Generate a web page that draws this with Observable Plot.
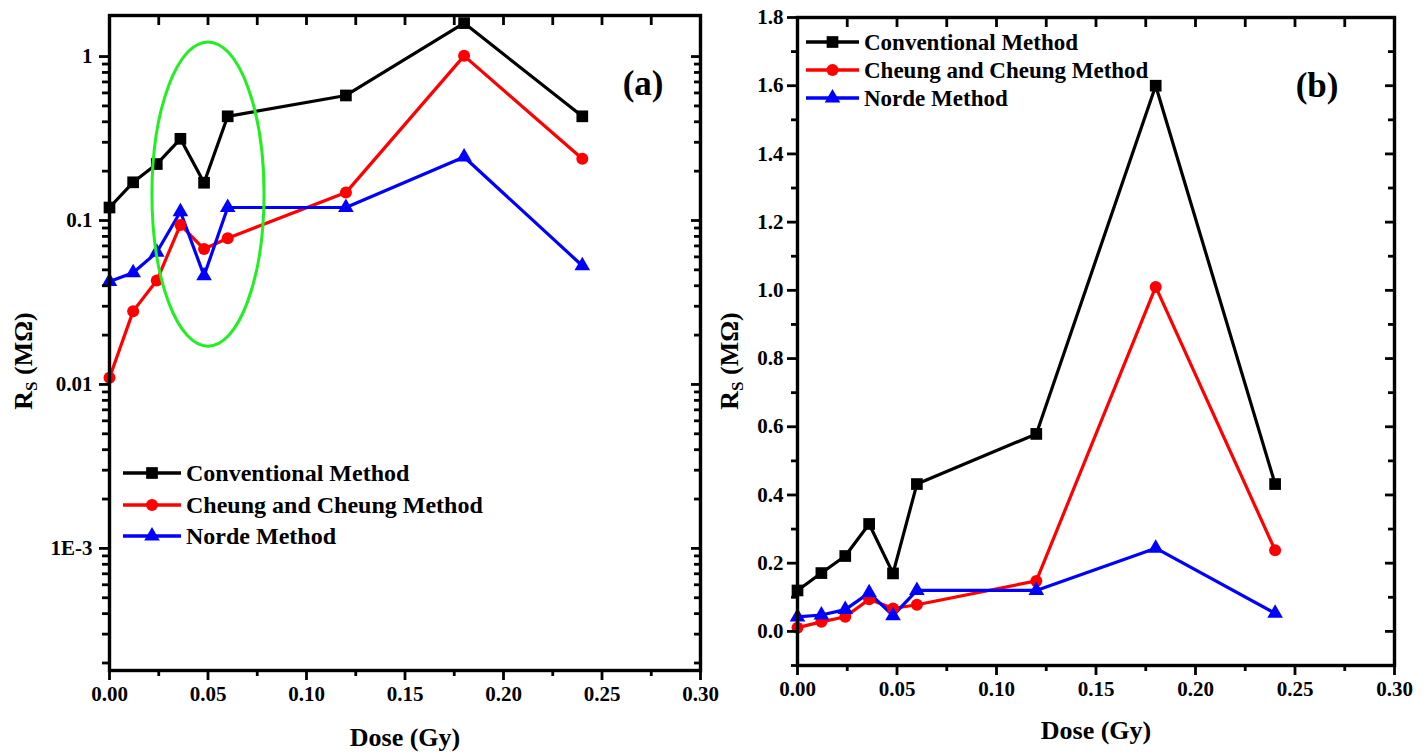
<!DOCTYPE html>
<html><head><meta charset="utf-8">
<script src="https://cdn.jsdelivr.net/npm/d3@7"></script>
<script src="https://cdn.jsdelivr.net/npm/@observablehq/plot@0.6"></script>
<style>
body{margin:0;background:#fff;}
#wrap{position:relative;width:1428px;height:755px;overflow:hidden;background:#fff;}
#wrap svg{position:absolute;top:0;}
#wrap svg text{font-weight:bold;}
</style></head><body><div id="wrap"></div>
<script>
// ---- data ----
const dose = [0, 0.012, 0.024, 0.036, 0.048, 0.06, 0.12, 0.18, 0.24];
const conventional = [0.12, 0.171, 0.221, 0.315, 0.17, 0.432, 0.579, 1.6, 0.432];
const cheung = [0.011, 0.028, 0.043, 0.094, 0.067, 0.078, 0.148, 1.01, 0.238];
const norde = [0.0425, 0.048, 0.064, 0.113, 0.046, 0.12, 0.12, 0.244, 0.053];

const seriesNames = ["Conventional Method", "Cheung and Cheung Method", "Norde Method"];
const seriesColors = ["#000000", "#ff0000", "#0000ff"];
const seriesSymbols = ["square", "circle", "triangle"];
const seriesR = [6.6, 6, 5.8];

// ---- ticks ----
const xMajorTicks = [0, 0.05, 0.10, 0.15, 0.20, 0.25, 0.30];
const xMinorTicks = [0.025, 0.075, 0.125, 0.175, 0.225, 0.275];
const xTopTicks = [0.025, 0.05, 0.075, 0.10, 0.125, 0.15, 0.175, 0.20, 0.225, 0.25, 0.275];
const logMajorTicks = [0.001, 0.01, 0.1, 1];
const logMajorLabels = ["1E-3", "0.01", "0.1", "1"];
const logMinorTicks = [2e-4, 3e-4, 4e-4, 5e-4, 6e-4, 7e-4, 8e-4, 9e-4,
  0.002, 0.003, 0.004, 0.005, 0.006, 0.007, 0.008, 0.009,
  0.02, 0.03, 0.04, 0.05, 0.06, 0.07, 0.08, 0.09,
  0.2, 0.3, 0.4, 0.5, 0.6, 0.7, 0.8, 0.9];
const linMajorTicks = [0, 0.2, 0.4, 0.6, 0.8, 1.0, 1.2, 1.4, 1.6, 1.8];
const linMajorLabels = ["0.0", "0.2", "0.4", "0.6", "0.8", "1.0", "1.2", "1.4", "1.6", "1.8"];
const linMinorTicks = [-0.1, 0.1, 0.3, 0.5, 0.7, 0.9, 1.1, 1.3, 1.5, 1.7];

// green highlight ellipse (data extents) in panel (a)
const ellipseX = [0.0218, 0.0787];
const ellipseY = [0.017, 1.22];

const rows = dose.flatMap((d, i) => [
  {dose: d, rs: conventional[i], s: 0},
  {dose: d, rs: cheung[i], s: 1},
  {dose: d, rs: norde[i], s: 2}
]);

const FONT = "'Liberation Serif', 'Times New Roman', serif";
const blank = () => "";

function seriesMarks() {
  const m = [];
  for (let s = 0; s < 3; s++) {
    const d = rows.filter(r => r.s === s);
    m.push(Plot.line(d, {x: "dose", y: "rs", stroke: seriesColors[s], strokeWidth: 3.2}));
  }
  for (let s = 0; s < 3; s++) {
    const d = rows.filter(r => r.s === s);
    m.push(Plot.dot(d, {x: "dose", y: "rs", symbol: seriesSymbols[s], r: seriesR[s], fill: seriesColors[s], stroke: "none"}));
  }
  return m;
}

function xAxes() {
  return [
    Plot.axisX(xMajorTicks, {anchor: "bottom", tickSize: 10, tickPadding: 6, strokeWidth: 2.8, fontSize: 21, fontWeight: "bold", tickFormat: d3.format(".2f"), label: null}),
    Plot.axisX(xMinorTicks, {anchor: "bottom", tickSize: 6, strokeWidth: 2.8, tickFormat: blank, label: null}),
    Plot.axisX(xTopTicks, {anchor: "top", tickSize: -9, strokeWidth: 2.8, tickFormat: blank, label: null})
  ];
}

function addYLabel(svg, x, y) {
  const t = d3.select(svg).append("text")
    .attr("transform", `translate(${x},${y}) rotate(-90)`)
    .attr("text-anchor", "middle")
    .attr("font-size", 26).attr("font-weight", "bold").attr("font-family", FONT).attr("fill", "#000");
  t.append("tspan").text("R");
  t.append("tspan").attr("font-size", 17).attr("dy", 5).text("S");
  t.append("tspan").attr("dy", -5).text(" (MΩ)");
}

function addLegend(svg, x0, x1, xt, ys, fontSize) {
  const g = d3.select(svg).append("g").attr("text-anchor", "start");
  const sym = [d3.symbolSquare, d3.symbolCircle, d3.symbolTriangle];
  seriesNames.forEach((name, i) => {
    g.append("line").attr("x1", x0).attr("x2", x1).attr("y1", ys[i]).attr("y2", ys[i])
      .attr("stroke", seriesColors[i]).attr("stroke-width", 3.5);
    g.append("path").attr("d", d3.symbol(sym[i], Math.PI * seriesR[i] * seriesR[i])())
      .attr("transform", `translate(${(x0 + x1) / 2},${ys[i]})`).attr("fill", seriesColors[i]);
    g.append("text").attr("x", xt).attr("y", ys[i]).attr("dy", "0.35em")
      .attr("text-anchor", "start")
      .attr("font-size", fontSize).attr("font-weight", "bold").attr("font-family", FONT)
      .attr("fill", "#000").text(name);
  });
}

const style = {fontFamily: FONT, fontWeight: "bold", fontSize: "20px", color: "#000", background: "transparent", overflow: "visible"};

// ---- panel (a): log scale ----
const plotA = Plot.plot({
  width: 714, height: 755,
  marginLeft: 109, marginRight: 14, marginTop: 15, marginBottom: 85,
  style,
  x: {domain: [0, 0.30]},
  y: {type: "log", domain: [1.8e-4, 1.78]},
  marks: [
    ...seriesMarks(),
    Plot.frame({stroke: "#000", strokeWidth: 3.4}),
    ...xAxes(),
    Plot.axisY(logMajorTicks, {anchor: "left", tickSize: 10, tickPadding: 7, strokeWidth: 2.8, fontSize: 21, fontWeight: "bold",
      tickFormat: v => logMajorLabels[logMajorTicks.indexOf(v)], label: null}),
    Plot.axisY(logMinorTicks, {anchor: "left", tickSize: 7, strokeWidth: 2.8, tickFormat: blank, label: null}),
    Plot.axisY(logMajorTicks, {anchor: "right", tickSize: -10, strokeWidth: 2.8, tickFormat: blank, label: null}),
    Plot.axisY(logMinorTicks, {anchor: "right", tickSize: -7, strokeWidth: 2.8, tickFormat: blank, label: null}),
    Plot.text(["(a)"], {frameAnchor: "top-right", dx: -37, dy: 68, lineAnchor: "middle", textAnchor: "end", fontSize: 35, fontWeight: "bold"}),
    Plot.text(["Dose (Gy)"], {frameAnchor: "bottom", dy: 67, lineAnchor: "middle", fontSize: 26, fontWeight: "bold"})
  ]
});
plotA.style.left = "0px";
{
  const sx = plotA.scale("x"), sy = plotA.scale("y");
  const xa = sx.apply(ellipseX[0]), xb = sx.apply(ellipseX[1]);
  const ya = sy.apply(ellipseY[0]), yb = sy.apply(ellipseY[1]);
  d3.select(plotA).append("ellipse")
    .attr("cx", (xa + xb) / 2).attr("cy", (ya + yb) / 2)
    .attr("rx", Math.abs(xb - xa) / 2).attr("ry", Math.abs(ya - yb) / 2)
    .attr("fill", "none").attr("stroke", "#22ee22").attr("stroke-width", 3);
}
addYLabel(plotA, 32, 361);
addLegend(plotA, 123, 181, 186, [473, 505, 536], 24);

// ---- panel (b): linear scale ----
const plotB = Plot.plot({
  width: 714, height: 755,
  marginLeft: 83, marginRight: 34, marginTop: 17, marginBottom: 90,
  style,
  x: {domain: [0, 0.30]},
  y: {domain: [-0.1, 1.8]},
  marks: [
    ...seriesMarks(),
    Plot.frame({stroke: "#000", strokeWidth: 3.4}),
    ...xAxes(),
    Plot.axisY(linMajorTicks, {anchor: "left", tickSize: 10, tickPadding: 4, strokeWidth: 2.8, fontSize: 21, fontWeight: "bold",
      tickFormat: v => linMajorLabels[linMajorTicks.indexOf(v)], label: null}),
    Plot.axisY(linMinorTicks, {anchor: "left", tickSize: 6, strokeWidth: 2.8, tickFormat: blank, label: null}),
    Plot.axisY(linMajorTicks, {anchor: "right", tickSize: -10, strokeWidth: 2.8, tickFormat: blank, label: null}),
    Plot.axisY(linMinorTicks, {anchor: "right", tickSize: -7, strokeWidth: 2.8, tickFormat: blank, label: null}),
    Plot.text(["(b)"], {frameAnchor: "top-right", dx: -56, dy: 68, lineAnchor: "middle", textAnchor: "end", fontSize: 35, fontWeight: "bold"}),
    Plot.text(["Dose (Gy)"], {frameAnchor: "bottom", dy: 65, lineAnchor: "middle", fontSize: 26, fontWeight: "bold"})
  ]
});
plotB.style.left = "714px";
addYLabel(plotB, 738 - 714, 361);
addLegend(plotB, 92, 145, 150, [42, 70, 98], 23);

const wrap = document.getElementById("wrap");
wrap.appendChild(plotA);
wrap.appendChild(plotB);
</script></body></html>
